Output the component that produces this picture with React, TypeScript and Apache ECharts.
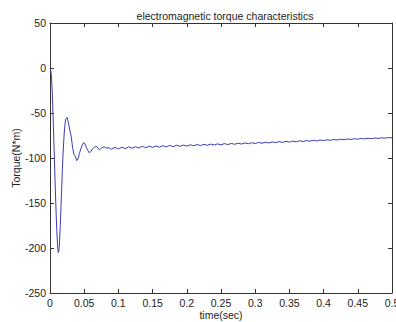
import React, { useEffect, useRef } from "react";
import * as echarts from "echarts";

const titleText = "electromagnetic torque characteristics";
const xTicks = [0, 0.05, 0.1, 0.15, 0.2, 0.25, 0.3, 0.35, 0.4, 0.45, 0.5];
const yTicks = [50, 0, -50, -100, -150, -200, -250];

// transient part [time (s), torque (N*m)]
const transient: [number, number][] = [
  [0, 0], [0.001, -2], [0.002, -8], [0.003, -22], [0.004, -42], [0.005, -65],
  [0.006, -90], [0.007, -115], [0.008, -140], [0.009, -162], [0.010, -182],
  [0.011, -197], [0.012, -205], [0.013, -203], [0.014, -192], [0.015, -175],
  [0.016, -155], [0.017, -135], [0.018, -115], [0.019, -97], [0.020, -82],
  [0.021, -70], [0.022, -62], [0.023, -57], [0.025, -55], [0.027, -61],
  [0.029, -69], [0.031, -76], [0.033, -88], [0.035, -96], [0.037, -98],
  [0.039, -103], [0.041, -101], [0.043, -95], [0.045, -90], [0.047, -86],
  [0.049, -83], [0.051, -84], [0.053, -88], [0.055, -91], [0.057, -94],
  [0.0595, -93], [0.062, -90], [0.065, -88], [0.068, -87], [0.070, -89],
  [0.072, -91], [0.075, -89], [0.079, -87.4], [0.082, -89],
];

const steadyTimes = [
  0.085, 0.09, 0.095, 0.1, 0.105, 0.11, 0.115, 0.12, 0.125, 0.13, 0.135, 0.14,
  0.145, 0.15, 0.155, 0.16, 0.165, 0.17, 0.175, 0.18, 0.185, 0.19, 0.195, 0.2,
  0.205, 0.21, 0.215, 0.22, 0.225, 0.23, 0.235, 0.24, 0.245, 0.25, 0.255, 0.26,
  0.265, 0.27, 0.275, 0.28, 0.285, 0.29, 0.295, 0.3, 0.305, 0.31, 0.315, 0.32,
  0.325, 0.33, 0.335, 0.34, 0.345, 0.35, 0.355, 0.36, 0.365, 0.37, 0.375, 0.38,
  0.385, 0.39, 0.395, 0.4, 0.405, 0.41, 0.415, 0.42, 0.425, 0.43, 0.435, 0.44,
  0.445, 0.45, 0.455, 0.46, 0.465, 0.47, 0.475, 0.48, 0.485, 0.49, 0.495, 0.5,
];
const steadyTorque = [
  -88.5, -90.3, -88.2, -90.0, -88.0, -89.6, -87.6, -89.2, -87.4, -88.9, -87.0, -88.6,
  -86.8, -88.3, -86.6, -88.0, -86.3, -87.7, -86.0, -87.4, -85.8, -87.0, -85.6, -86.8,
  -85.3, -86.5, -85.0, -86.2, -84.8, -85.9, -84.6, -85.6, -84.3, -85.4, -84.0, -85.1,
  -83.8, -84.8, -83.5, -84.5, -83.2, -84.2, -83.0, -83.9, -82.7, -83.6, -82.4, -83.3,
  -82.1, -83.0, -81.8, -82.7, -81.5, -82.3, -81.2, -82.0, -80.9, -81.7, -80.6, -81.4,
  -80.3, -81.0, -80.0, -80.7, -79.7, -80.4, -79.4, -80.0, -79.1, -79.7, -78.8, -79.4,
  -78.6, -79.1, -78.3, -78.8, -78.0, -78.5, -77.8, -78.2, -77.6, -77.9, -77.3, -77.6,
];

export default function App() {
  const ref = useRef<HTMLDivElement>(null);
  useEffect(() => {
    if (!ref.current) return;
    const chart = echarts.init(ref.current, undefined, { renderer: "svg" });
    const data: [number, number][] = [
      ...transient,
      ...steadyTimes.map((t, i) => [t, steadyTorque[i]] as [number, number]),
    ];
    const font = "Liberation Sans, Arial, sans-serif";
    const axisLine = { show: true, onZero: false, lineStyle: { color: "#333", width: 1 } };
    const tick = { show: true, inside: true, length: 4, lineStyle: { color: "#333" } };
    chart.setOption({
      animation: false,
      backgroundColor: "#fff",
      title: {
        text: titleText,
        left: 220,
        textAlign: "center",
        top: 5,
        textStyle: { fontSize: 10.5, fontWeight: "normal", color: "#222", fontFamily: font },
      },
      grid: {
        left: 50, right: 4, top: 23, bottom: 29,
        containLabel: false, outerBoundsMode: "none",
      },
      xAxis: [
        {
          type: "value", min: 0, max: 0.5, interval: 0.05,
          name: "time(sec)", nameLocation: "middle", nameGap: 16,
          nameMoveOverlap: false,
          nameTextStyle: { fontSize: 10.5, color: "#222", fontFamily: font },
          axisLine, axisTick: tick, splitLine: { show: false },
          axisLabel: {
            fontSize: 10.5, color: "#222", margin: 4, fontFamily: font,
            formatter: (v: number) => {
              const m = xTicks.find((t) => Math.abs(t - v) < 1e-9);
              return m === undefined ? "" : String(m);
            },
          },
        },
        {
          type: "value", position: "top", min: 0, max: 0.5, interval: 0.05,
          axisLine, axisTick: tick, axisLabel: { show: false }, splitLine: { show: false },
        },
      ],
      yAxis: [
        {
          type: "value", min: -250, max: 50, interval: 50,
          name: "Torque(N*m)", nameLocation: "middle", nameGap: 29,
          nameMoveOverlap: false,
          nameTextStyle: { fontSize: 10.5, color: "#222", fontFamily: font },
          axisLine, axisTick: tick, splitLine: { show: false },
          axisLabel: {
            fontSize: 10.5, color: "#222", margin: 4, fontFamily: font,
            formatter: (v: number) => (yTicks.includes(v) ? String(v) : ""),
          },
        },
        {
          type: "value", position: "right", min: -250, max: 50, interval: 50,
          axisLine, axisTick: tick, axisLabel: { show: false }, splitLine: { show: false },
        },
      ],
      series: [
        {
          type: "line", data, showSymbol: false, symbol: "none",
          lineStyle: { color: "#3b3bb5", width: 1 }, xAxisIndex: 0, yAxisIndex: 0,
        },
      ],
    });
    return () => chart.dispose();
  }, []);
  return (
    <div
      ref={ref}
      style={{ position: "fixed", left: 0, top: 0, width: 396, height: 322, background: "#fff" }}
    />
  );
}
